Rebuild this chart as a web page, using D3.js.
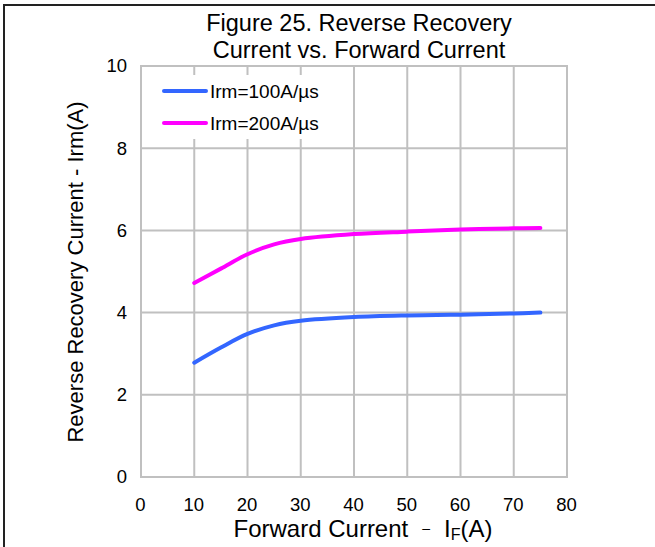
<!DOCTYPE html>
<html><head><meta charset="utf-8">
<script src="https://cdn.jsdelivr.net/npm/d3@7"></script>
<style>
html,body{margin:0;padding:0;background:#fff;}
svg{display:block;font-family:"Liberation Sans",Arial,sans-serif;}
</style></head>
<body>
<svg id="chart" width="655" height="547"></svg>
<script>
const forwardCurrent = [10, 15, 20, 25, 30, 40, 50, 60, 70, 75];
const irm100 = [2.78, 3.15, 3.48, 3.69, 3.80, 3.89, 3.93, 3.95, 3.98, 4.00];
const irm200 = [4.72, 5.07, 5.42, 5.66, 5.79, 5.91, 5.97, 6.02, 6.05, 6.06];
const seriesNames = ["Irm=100A/µs", "Irm=200A/µs"];
const seriesColors = ["#3366FF", "#FF00FF"];
const xTicks = [0, 10, 20, 30, 40, 50, 60, 70, 80];
const yTicks = [0, 2, 4, 6, 8, 10];
const titleLines = ["Figure 25. Reverse Recovery", "Current vs. Forward Current"];

const svg = d3.select("#chart");
const m = {left: 141, right: 567, top: 66, bottom: 477};

// outer frame
svg.append("rect").attr("x", 4).attr("y", 5).attr("width", 660).attr("height", 560)
  .attr("fill", "none").attr("stroke", "#222").attr("stroke-width", 2);

const x = d3.scaleLinear().domain([0, 80]).range([m.left, m.right]);
const y = d3.scaleLinear().domain([0, 10]).range([m.bottom, m.top]);

// grid
const grid = svg.append("g");
grid.selectAll("line.v").data(xTicks).join("line")
  .attr("x1", d => x(d)).attr("x2", d => x(d))
  .attr("y1", m.top).attr("y2", m.bottom)
  .attr("stroke", "#c0c0c0").attr("stroke-width", 2);
grid.selectAll("line.h").data(yTicks).join("line")
  .attr("y1", d => y(d)).attr("y2", d => y(d))
  .attr("x1", m.left - 1).attr("x2", m.right + 1)
  .attr("stroke", "#c0c0c0").attr("stroke-width", 2);

// axes (labels only)
const xAxis = svg.append("g").attr("transform", `translate(-1,${m.bottom})`)
  .call(d3.axisBottom(x).tickValues(xTicks).tickSize(0).tickPadding(21));
const yAxis = svg.append("g").attr("transform", `translate(${m.left},0)`)
  .call(d3.axisLeft(y).tickValues(yTicks).tickSize(0).tickPadding(14));
[xAxis, yAxis].forEach(a => {
  a.select(".domain").remove();
  a.selectAll("text").attr("font-size", 18.5).attr("fill", "#000")
    .attr("font-family", "'Liberation Sans',Arial,sans-serif");
});

// legend background
svg.append("rect").attr("x", 150).attr("y", 75).attr("width", 185).attr("height", 64).attr("fill", "#fff");

// lines
const data = [irm100, irm200];
const line = d3.line().x((d, i) => x(forwardCurrent[i])).y(d => y(d)).curve(d3.curveCatmullRom.alpha(0.5));
svg.append("g").selectAll("path").data(data).join("path")
  .attr("d", d => line(d)).attr("fill", "none")
  .attr("stroke", (d, i) => seriesColors[i]).attr("stroke-width", 4)
  .attr("stroke-linecap", "round").attr("stroke-linejoin", "round");

// legend
const leg = svg.append("g");
seriesNames.forEach((n, i) => {
  const ly = 91 + i * 32;
  leg.append("line").attr("x1", 164).attr("x2", 206).attr("y1", ly).attr("y2", ly)
    .attr("stroke", seriesColors[i]).attr("stroke-width", 4).attr("stroke-linecap", "round");
  leg.append("text").attr("x", 210).attr("y", ly + 7).attr("font-size", 19).text(n);
});

// title
svg.append("g").selectAll("text").data(titleLines).join("text")
  .attr("x", 359).attr("y", (d, i) => 31 + i * 27).attr("text-anchor", "middle")
  .attr("font-size", 23.5).text(d => d);

// x axis title
const xt = svg.append("text").attr("x", 363).attr("y", 537).attr("text-anchor", "middle").attr("font-size", 24);
xt.append("tspan").text("Forward Current");
xt.append("tspan").attr("font-size", 14).attr("dx", 14).attr("dy", -4).text("–");
xt.append("tspan").attr("dx", 14).attr("dy", 4).text("I");
xt.append("tspan").attr("font-size", 16).attr("dy", 3).text("F");
xt.append("tspan").attr("dy", -3).text("(A)");

// y axis title
svg.append("text").attr("transform", `translate(83,272) rotate(-90)`)
  .attr("text-anchor", "middle").attr("font-size", 22)
  .text("Reverse Recovery Current - Irm(A)");
</script>
</body></html>
